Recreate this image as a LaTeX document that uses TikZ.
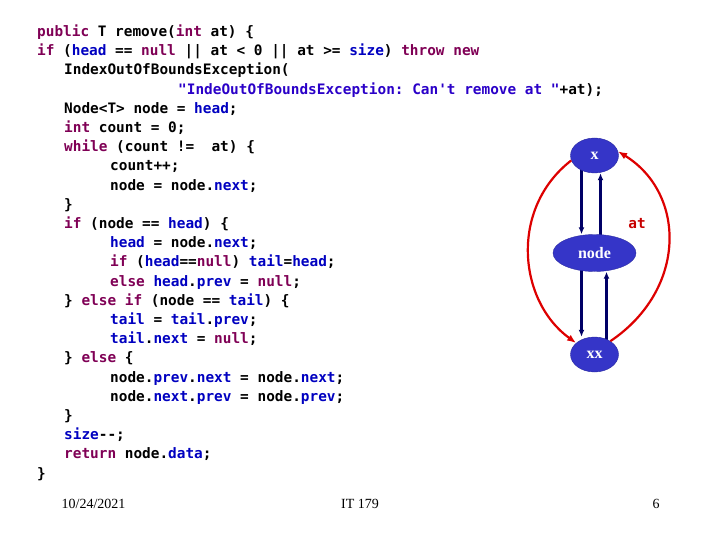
\documentclass[tikz,border=0pt]{standalone}
\usepackage{fontspec}
\setmainfont{Liberation Serif}
\newfontfamily\codefont{DejaVu Sans Mono}
\usetikzlibrary{shapes.geometric}
\usetikzlibrary{arrows.meta}
\usetikzlibrary{backgrounds}

\definecolor{kwcol}{HTML}{7F0055}
\definecolor{fdcol}{HTML}{0000C0}
\definecolor{strcol}{HTML}{2A00C8}
\definecolor{nodefill}{HTML}{3535C8}
\definecolor{linkcol}{HTML}{000066}
\definecolor{jumpcol}{HTML}{DD0000}

\newcommand{\kw}[1]{\textcolor{kwcol}{#1}}
\newcommand{\fd}[1]{\textcolor{fdcol}{#1}}
\newcommand{\strg}[1]{\textcolor{strcol}{#1}}

\begin{document}
\begin{tikzpicture}[
		x=1pt,
		y=-1pt,
		codeline/.style={
			anchor=base west,
			inner sep=0pt,
			font=\codefont\bfseries\fontsize{14.4}{17}\selectfont\frenchspacing
		},
		listnode/.style={
			ellipse,
			draw=nodefill!80!black,
			fill=nodefill,
			text=white,
			inner sep=0pt,
			minimum width=48pt,
			minimum height=35pt,
			font=\bfseries\fontsize{16}{18}\selectfont
		},
		link/.style={
			draw=linkcol,
			line width=2.6pt,
			-{Latex[length=7pt,width=6pt]}
		},
		jump/.style={
			draw=jumpcol,
			line width=2.2pt,
			-{Latex[length=9pt,width=7pt]}
		},
		footer/.style={
			anchor=base,
			inner sep=0pt,
			font=\fontsize{14}{16}\selectfont
		}]

		\useasboundingbox (0,0) rectangle (720,540);

		%code
		\node[codeline] (c0) at (37,36.5) {\kw{public} T remove(\kw{int} at) \{};
		\node[codeline] (c1) at (37,55.7) {\kw{if} (\fd{head} == \kw{null} || at < 0 || at >= \fd{size}) \kw{throw new}};
		\node[codeline] (c2) at (64,74.9) {IndexOutOfBoundsException(};
		\node[codeline] (c3) at (178,94.1) {\strg{"IndeOutOfBoundsException: Can't remove at "}+at);};
		\node[codeline] (c4) at (64,113.3) {Node<T> node = \fd{head};};
		\node[codeline] (c5) at (64,132.5) {\kw{int} count = 0;};
		\node[codeline] (c6) at (64,151.7) {\kw{while} (count !=~ at) \{};
		\node[codeline] (c7) at (110,170.9) {count++;};
		\node[codeline] (c8) at (110,190.1) {node = node.\fd{next};};
		\node[codeline] (c9) at (64,209.3) {\}};
		\node[codeline] (c10) at (64,228.5) {\kw{if} (node == \fd{head}) \{};
		\node[codeline] (c11) at (110,247.7) {\fd{head} = node.\fd{next};};
		\node[codeline] (c12) at (110,266.9) {\kw{if} (\fd{head}==\kw{null}) \fd{tail}=\fd{head};};
		\node[codeline] (c13) at (110,286.1) {\kw{else} \fd{head}.\fd{prev} = \kw{null};};
		\node[codeline] (c14) at (64,305.3) {\} \kw{else if} (node == \fd{tail}) \{};
		\node[codeline] (c15) at (110,324.5) {\fd{tail} = \fd{tail}.\fd{prev};};
		\node[codeline] (c16) at (110,343.7) {\fd{tail}.\fd{next} = \kw{null};};
		\node[codeline] (c17) at (64,362.9) {\} \kw{else} \{};
		\node[codeline] (c18) at (110,382.1) {node.\fd{prev}.\fd{next} = node.\fd{next};};
		\node[codeline] (c19) at (110,401.3) {node.\fd{next}.\fd{prev} = node.\fd{prev};};
		\node[codeline] (c20) at (64,420.5) {\}};
		\node[codeline] (c21) at (64,439.7) {\fd{size}-{}-;};
		\node[codeline] (c22) at (64,458.9) {\kw{return} node.\fd{data};};
		\node[codeline] (c23) at (37,478.1) {\}};

		%list
		\node[listnode] at (594.5,155.5) (x) {x};
		\node[listnode, below of=x, node distance=97.5pt, minimum width=83pt, minimum height=37pt] (node) {node};
		\node[listnode, below of=node, node distance=101.5pt] (xx) {xx};

		\begin{scope}[on background layer]
			\draw[link] ([xshift=-13pt]x.center) -- ([xshift=-13pt]x.center |- node.north);
			\draw[link] ([xshift=6pt]node.center) -- ([xshift=6pt]node.center |- x.south);
			\draw[link] ([xshift=-13pt]node.center) -- ([xshift=-13pt]node.center |- xx.north);
			\draw[link] ([xshift=12pt]xx.center) -- ([xshift=12pt]xx.center |- node.south);
		\end{scope}

		\draw[jump] (x.192) .. controls +(-62,48) and +(-58,-42) .. (xx.148);
		\draw[jump] (xx.40) .. controls +(77,-52) and +(68,42) .. (x.10);

		\node[codeline, anchor=center, text=jumpcol!90!black] at (637,224) (atlabel) {at};

		%footer
		\node[footer] at (93.5,508) (date) {10/24/2021};
		\node[footer] at (360,508) (course) {IT 179};
		\node[footer] at (656,508) (page) {6};

	\end{tikzpicture}
\end{document}
